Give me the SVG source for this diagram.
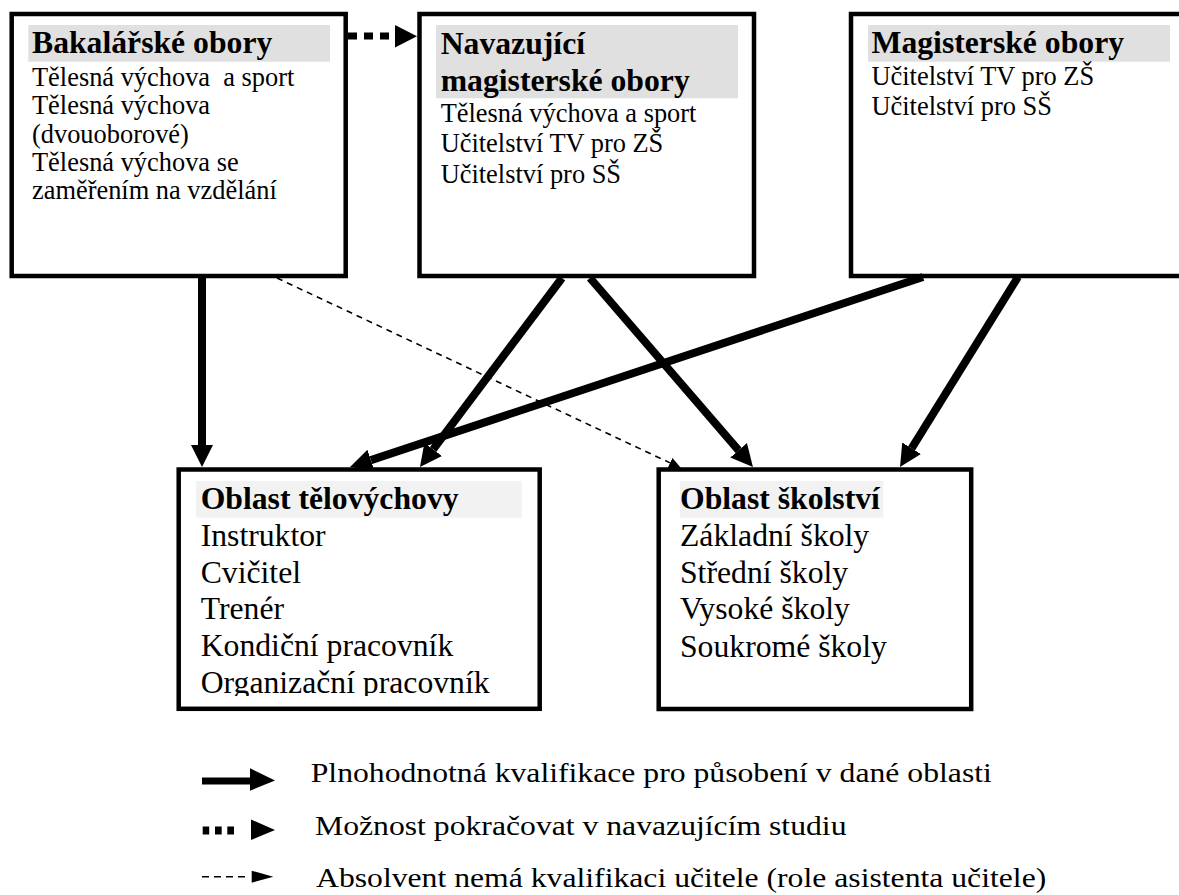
<svg xmlns="http://www.w3.org/2000/svg" width="1179" height="895" viewBox="0 0 1179 895">
<style>
  .box { fill: #ffffff; stroke: #000000; stroke-width: 4.5; }
  .hdTop { fill: #e0e0e0; }
  .hdBot { fill: #f2f2f2; }
  text { font-family: "Liberation Serif", "Times New Roman", serif; fill: #000000; }
  .h { font-weight: bold; font-size: 31.7px; }
  .b1 { font-size: 26.4px; }
  .b2 { font-size: 31.7px; }
  .lg { font-size: 31.7px; }
  .thick { stroke: #000000; stroke-width: 8; fill: none; }
  .dash { stroke: #000000; stroke-width: 1.6; fill: none; stroke-dasharray: 6 5; }
</style>
<defs>
  <marker id="ah" markerUnits="userSpaceOnUse" markerWidth="24" markerHeight="24" viewBox="0 -12 24 24" refX="0" refY="0" orient="auto">
    <path d="M0,-11 L22,0 L0,11 z" fill="#000000"/>
  </marker>
  <marker id="ahs" markerUnits="userSpaceOnUse" markerWidth="14" markerHeight="12" viewBox="0 -6 14 12" refX="0" refY="0" orient="auto">
    <path d="M0,-5.5 L12,0 L0,5.5 z" fill="#000000"/>
  </marker>
  <clipPath id="clipOrg"><rect x="180" y="470" width="358" height="226"/></clipPath>
</defs>

<g id="node-bakalarske">
  <rect class="box" x="11.7" y="14" width="334" height="262"/>
  <rect class="hdTop" x="28.3" y="25" width="301.7" height="36.7"/>
  <text class="h" x="32" y="53.3">Bakalářské obory</text>
  <text class="b1" x="32" y="86" xml:space="preserve">Tělesná výchova  a sport</text>
  <text class="b1" x="32" y="114.3">Tělesná výchova</text>
  <text class="b1" x="32" y="142.7">(dvouoborové)</text>
  <text class="b1" x="32" y="171">Tělesná výchova se</text>
  <text class="b1" x="32" y="199.3">zaměřením na vzdělání</text>
</g>

<g id="node-navazujici">
  <rect class="box" x="419.5" y="14" width="334.5" height="262"/>
  <rect class="hdTop" x="436" y="25" width="302" height="73.3"/>
  <text class="h" x="440.7" y="54.3">Navazující</text>
  <text class="h" x="440.7" y="90.7">magisterské obory</text>
  <text class="b1" x="440.7" y="121.7">Tělesná výchova a sport</text>
  <text class="b1" x="440.7" y="152">Učitelství TV pro ZŠ</text>
  <text class="b1" x="440.7" y="182.7">Učitelství pro SŠ</text>
</g>

<g id="node-magisterske">
  <rect class="box" x="851" y="14" width="340" height="262"/>
  <rect class="hdTop" x="868" y="25" width="302" height="36.7"/>
  <text class="h" x="871.5" y="53.3">Magisterské obory</text>
  <text class="b1" x="871.5" y="84.5">Učitelství TV pro ZŠ</text>
  <text class="b1" x="871.5" y="115">Učitelství pro SŠ</text>
</g>

<g id="node-telovychova">
  <rect class="box" x="178.7" y="469.5" width="361" height="239.3"/>
  <rect class="hdBot" x="196" y="481" width="325.7" height="36.7"/>
  <text class="h" x="200.7" y="509.3">Oblast tělovýchovy</text>
  <text class="b2" x="200.7" y="546">Instruktor</text>
  <text class="b2" x="200.7" y="582.5">Cvičitel</text>
  <text class="b2" x="200.7" y="619">Trenér</text>
  <text class="b2" x="200.7" y="656">Kondiční pracovník</text>
  <text class="b2" x="200.7" y="692.7" clip-path="url(#clipOrg)">Organizační pracovník</text>
</g>

<g id="node-skolstvi">
  <rect class="box" x="658.7" y="469.5" width="312.5" height="239.5"/>
  <rect class="hdBot" x="680" y="481" width="203.3" height="36.7"/>
  <text class="h" x="680" y="509.3">Oblast školství</text>
  <text class="b2" x="680" y="546">Základní školy</text>
  <text class="b2" x="680" y="582.7">Střední školy</text>
  <text class="b2" x="680" y="619.3">Vysoké školy</text>
  <text class="b2" x="680" y="656.5">Soukromé školy</text>
</g>

<g id="connectors">
  <line x1="348" y1="36" x2="391" y2="36" stroke="#000000" stroke-width="7" stroke-dasharray="9 7"/>
  <path d="M395,25 L417,36.3 L395,47.5 z" fill="#000000"/>
  <line class="thick" x1="202" y1="277" x2="202" y2="445" marker-end="url(#ah)"/>
  <line class="thick" x1="562" y1="278" x2="433.2" y2="449.4" marker-end="url(#ah)"/>
  <line class="thick" x1="923" y1="277" x2="370.9" y2="460.1" marker-end="url(#ah)"/>
  <line class="thick" x1="590" y1="278" x2="738.6" y2="450.3" marker-end="url(#ah)"/>
  <line class="thick" x1="1018" y1="277" x2="911.6" y2="448.3" marker-end="url(#ah)"/>
  <line class="dash" x1="277" y1="278" x2="670.1" y2="462.9" marker-end="url(#ahs)"/>
</g>

<g id="legend">
  <line x1="202" y1="781" x2="251" y2="781" stroke="#000000" stroke-width="7"/>
  <path d="M250,768.3 L275,780.5 L250,790.7 z" fill="#000000"/>
  <text class="lg" transform="translate(310.7,782) scale(1,0.85)" x="0" y="0">Plnohodnotná kvalifikace pro působení v dané oblasti</text>

  <rect x="202.7" y="826.5" width="6.5" height="8" fill="#000000"/>
  <rect x="215" y="826.5" width="6.7" height="8" fill="#000000"/>
  <rect x="227.3" y="826.5" width="6.7" height="8" fill="#000000"/>
  <path d="M251,819.5 L275,830 L251,840 z" fill="#000000"/>
  <text class="lg" transform="translate(315,834.5) scale(1,0.85)" x="0" y="0">Možnost pokračovat v navazujícím studiu</text>

  <line x1="202" y1="876.7" x2="247" y2="876.7" stroke="#000000" stroke-width="1.6" stroke-dasharray="7 5"/>
  <path d="M251.7,870.7 L273.3,876.7 L251.7,882.7 z" fill="#000000"/>
  <text class="lg" transform="translate(316,887) scale(1,0.85)" x="0" y="0">Absolvent nemá kvalifikaci učitele (role asistenta učitele)</text>
</g>
</svg>
